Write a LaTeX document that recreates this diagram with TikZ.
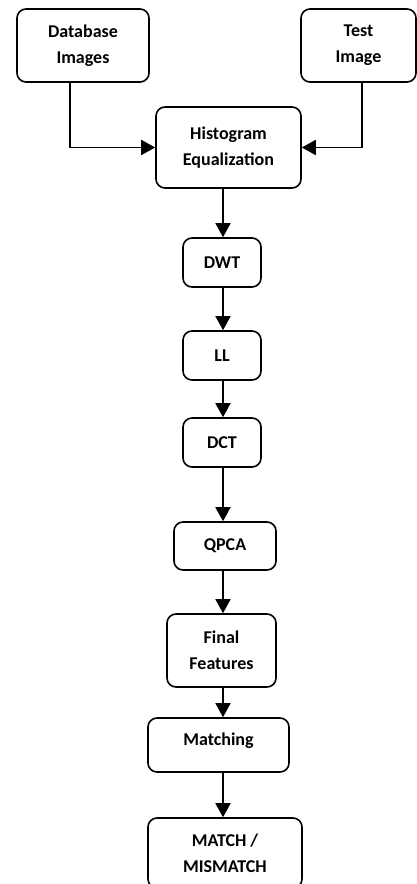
\documentclass[tikz,border=0pt]{standalone}
\usepackage{fontspec}
\setmainfont{Carlito}
\usepackage{tikz}
\usetikzlibrary{arrows.meta}
\tikzstyle{stepbox} = [draw=black, fill=white, line width=1.6pt,
    rectangle, rounded corners=9pt, align=center, inner sep=2pt,
    font=\fontsize{18}{26}\selectfont\bfseries]
\tikzstyle{flow} = [draw=black, line width=1.8pt, -{Triangle[width=15pt,length=14pt]}]

\begin{document}
\begin{tikzpicture}[x=1pt,y=-1pt]
                \clip (0,0) rectangle (417,884);
                \coordinate (dbdrop) at (70,0);
                \coordinate (testdrop) at (362,0);
                \coordinate (spine) at (223,0);
                \node[stepbox, minimum width=132pt, minimum height=73pt] (db) at (83,45.5) {Database\\Images};
                \node[stepbox, minimum width=115pt, minimum height=73pt] (test) at (358.5,45.5) {Test\\Image};
                \node[stepbox, minimum width=145pt, minimum height=81pt] (hist) at (228.5,147.5) {Histogram\\Equalization};
                \node[stepbox, minimum width=78pt, minimum height=49pt] (dwt) at (222,262.5) {DWT};
                \node[stepbox, minimum width=78pt, minimum height=49pt] (ll) at (222,355.5) {LL};
                \node[stepbox, minimum width=78pt, minimum height=49pt] (dct) at (222,442.5) {DCT};
                \node[stepbox, minimum width=102pt, minimum height=48pt] (qpca) at (225,546) {QPCA};
                \node[stepbox, minimum width=109pt, minimum height=73pt] (final) at (221.5,650.5) {Final\\Features};
                \node[stepbox, minimum width=141pt, minimum height=54pt, text height=13pt, text depth=13pt] (match) at (218.5,745) {Matching};
                \node[stepbox, minimum width=154pt, minimum height=70pt] (result) at (225,853) {MATCH /\\MISMATCH};
                \draw[flow] (db.south -| dbdrop) |- (hist.west);
                \draw[flow] (test.south -| testdrop) |- (hist.east);
                \draw[flow] (hist.south -| spine) -- (dwt.north -| spine);
                \draw[flow] (dwt.south -| spine) -- (ll.north -| spine);
                \draw[flow] (ll.south -| spine) -- (dct.north -| spine);
                \draw[flow] (dct.south -| spine) -- (qpca.north -| spine);
                \draw[flow] (qpca.south -| spine) -- (final.north -| spine);
                \draw[flow] (final.south -| spine) -- (match.north -| spine);
                \draw[flow] (match.south -| spine) -- (result.north -| spine);
            \end{tikzpicture}
\end{document}
